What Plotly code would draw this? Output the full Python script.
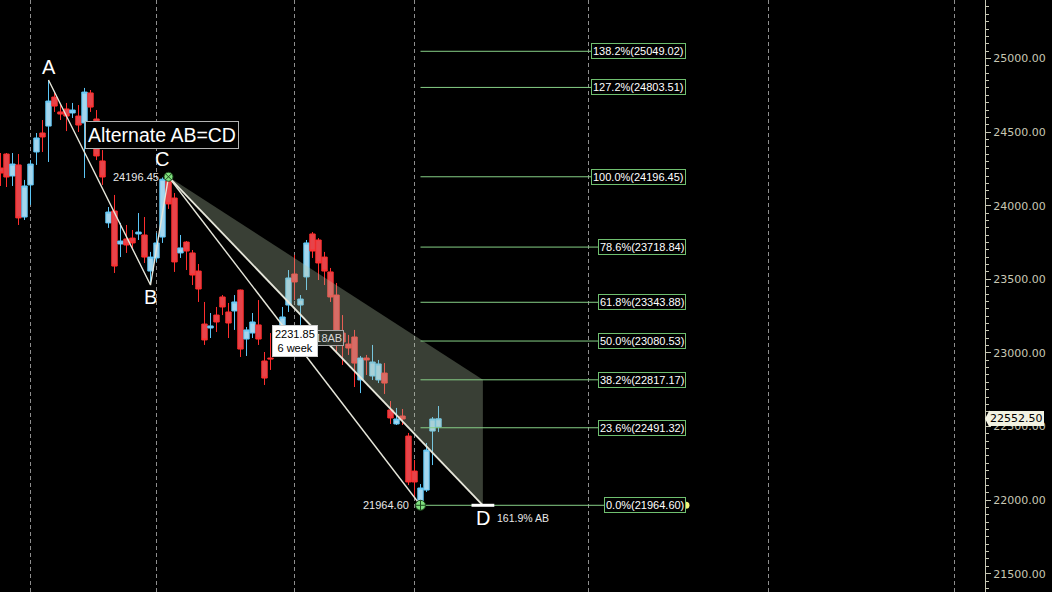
import plotly.graph_objects as go

# ---------------- data ----------------
bar_index = list(range(74))
opens = [24256, 24351, 24202, 24277, 23923, 24141, 24365, 24494, 24541, 24738,
         24637, 24657, 24630, 24609, 24562, 24766, 24589, 24304, 23883, 23964,
         23740, 23774, 23780, 23808, 23801, 23556, 23645, 23787, 24168, 24052,
         23679, 23753, 23679, 23556, 23196, 23169, 23257, 23380, 23278, 23285,
         23427, 23094, 23135, 23190, 22945, 22965, 23054, 23176, 23325, 23536,
         23325, 23516, 23808, 23767, 23651, 23550, 23393, 23135, 23060, 23108,
         22816, 22965, 22843, 22816, 22863, 22612, 22517, 22571, 22435, 22197,
         21987, 22068, 22469, 22496]
highs = [24358, 24358, 24358, 24351, 24175, 24310, 24494, 24582, 24854, 24772,
         24684, 24698, 24698, 24684, 24800, 24786, 24650, 24378, 23991, 24073,
         23883, 23869, 23835, 23950, 23923, 23686, 23815, 24192, 24196.45, 24086,
         23801, 23760, 23699, 23604, 23346, 23271, 23312, 23393, 23339, 23393,
         23430, 23176, 23271, 23359, 23006, 23135, 23190, 23312, 23563, 23665,
         23393, 23767, 23821, 23780, 23686, 23577, 23475, 23257, 23122, 23156,
         22979, 22986, 23054, 22952, 22931, 22673, 22626, 22619, 22456, 22272,
         22109, 22388, 22564, 22639]
lows = [24134, 24127, 24134, 23869, 23903, 24005, 24277, 24365, 24297, 24637,
        24582, 24507, 24596, 24501, 24188, 24637, 24310, 24141, 23849, 23543,
        23651, 23679, 23699, 23767, 23611, 23461, 23618, 23747, 23978, 23550,
        23645, 23563, 23461, 23346, 23054, 23101, 23142, 23257, 23101, 23156,
        22972, 22979, 23101, 23054, 22782, 22884, 23006, 23122, 23278, 23359,
        23190, 23427, 23645, 23495, 23461, 23346, 23006, 22918, 22986, 22768,
        22727, 22850, 22816, 22795, 22721, 22517, 22510, 22510, 22102, 22021,
        21964.6, 22055, 22238, 22462]
closes = [24222, 24195, 24283, 23917, 24134, 24283, 24460, 24467, 24711, 24677,
          24623, 24609, 24650, 24548, 24772, 24670, 24338, 24195, 23957, 23590,
          23760, 23733, 23747, 23821, 23651, 23651, 23747, 24180, 24012, 23618,
          23713, 23692, 23529, 23434, 23088, 23183, 23210, 23312, 23203, 23346,
          23026, 23156, 23210, 23094, 22829, 22959, 23122, 23244, 23509, 23482,
          23366, 23747, 23692, 23611, 23556, 23380, 23054, 23074, 23033, 22931,
          22965, 22952, 22938, 22925, 22795, 22558, 22551, 22551, 22123, 22123,
          22082, 22340, 22551, 22552.5]

# pattern points A, B, C (bar index, price)
pattern_names = ["A", "B", "C"]
pattern_idx = [8, 25, 28]
pattern_price = [24854, 23461, 24196.45]
low_idx, low_price = 70, 21964.60          # swing low (0.0 %)
d_idx, d_price = 80.4, 21964.60            # projected D point
cd_length_text = "2231.85<br>6 week"
cd_ratio_text = "1.618AB"
d_text = "161.9% AB"

fib_ratios = [138.2, 127.2, 100.0, 78.6, 61.8, 50.0, 38.2, 23.6, 0.0]
fib_prices = [25049.02, 24803.51, 24196.45, 23718.84, 23343.88, 23080.53,
              22817.17, 22491.32, 21964.60]

session_breaks = [5, 26, 49, 69, 98, 128, 159]
last_price = 22552.50

# ---------------- styling ----------------
BG = "#000000"
LINE_W = "#e6e6da"
FIB_C = "#86cf86"
AX_C = "#c8c8b4"
FONT = "Liberation Sans"
label_x = 114.25

fig = go.Figure()

fig.add_trace(go.Candlestick(
    x=bar_index, open=opens, high=highs, low=lows, close=closes,
    increasing=dict(line=dict(color="#5cc6f6", width=1), fillcolor="#a4d6ee"),
    decreasing=dict(line=dict(color="#ff2e2e", width=1), fillcolor="#e6444a"),
    whiskerwidth=0, hoverinfo="skip", showlegend=False))

# shaded projection area
c_i, c_p = pattern_idx[2], pattern_price[2]
fig.add_trace(go.Scatter(
    x=[c_i, d_idx, d_idx, c_i], y=[c_p, fib_prices[6], d_price, c_p],
    mode="lines", fill="toself", fillcolor="rgba(176,196,164,0.32)",
    line=dict(width=0), hoverinfo="skip", showlegend=False))

# fib lines
for p in fib_prices:
    fig.add_trace(go.Scatter(x=[low_idx, label_x - 8], y=[p, p], mode="lines",
                             line=dict(color=FIB_C, width=1),
                             hoverinfo="skip", showlegend=False))

# pattern lines
fig.add_trace(go.Scatter(x=pattern_idx, y=pattern_price, mode="lines",
                         line=dict(color=LINE_W, width=1.4),
                         hoverinfo="skip", showlegend=False))
fig.add_trace(go.Scatter(x=[c_i, low_idx], y=[c_p, low_price], mode="lines",
                         line=dict(color=LINE_W, width=1.4),
                         hoverinfo="skip", showlegend=False))
fig.add_trace(go.Scatter(x=[c_i, d_idx], y=[c_p, d_price], mode="lines",
                         line=dict(color=LINE_W, width=1.8),
                         hoverinfo="skip", showlegend=False))
fig.add_trace(go.Scatter(x=[d_idx - 1.9, d_idx + 1.9], y=[d_price, d_price],
                         mode="lines", line=dict(color="#ffffff", width=3),
                         hoverinfo="skip", showlegend=False))

# markers
fig.add_trace(go.Scatter(x=[c_i], y=[c_p], mode="markers",
                         marker=dict(symbol="circle-x", size=9, color="#7fe07f",
                                     line=dict(color="#1e4a1e", width=1)),
                         hoverinfo="skip", showlegend=False))
fig.add_trace(go.Scatter(x=[low_idx], y=[low_price], mode="markers",
                         marker=dict(symbol="circle-cross", size=10, color="#7fe07f",
                                     line=dict(color="#1e4a1e", width=1)),
                         hoverinfo="skip", showlegend=False))

annotations = []
# fib labels
for r, p in zip(fib_ratios, fib_prices):
    annotations.append(dict(
        x=label_x, y=p, xref="x", yref="y", xanchor="right", yanchor="middle",
        text=f"{r:.1f}%({p:.2f})", showarrow=False,
        font=dict(family=FONT, size=11, color="#ffffff"),
        bgcolor="#000000", bordercolor="#6fbf6f", borderwidth=1, borderpad=1))

# ABCD letters
letter_shift = {"A": (0, 13), "B": (0, -12), "C": (-7, 18)}
for n, i, p in zip(pattern_names, pattern_idx, pattern_price):
    dx, dy = letter_shift[n]
    annotations.append(dict(x=i, y=p, text=n, showarrow=False, xshift=dx, yshift=dy,
                            font=dict(family=FONT, size=20, color="#ffffff")))
annotations.append(dict(x=d_idx, y=d_price, text="D", showarrow=False, yshift=-13,
                        font=dict(family=FONT, size=20, color="#ffffff")))
annotations.append(dict(x=d_idx, y=d_price, text=d_text, showarrow=False,
                        xanchor="left", xshift=12, yshift=-13,
                        font=dict(family=FONT, size=10.5, color="#e8e8e8")))
annotations.append(dict(x=c_i, y=c_p, text=f"{c_p:.2f}", showarrow=False,
                        xanchor="right", xshift=-8,
                        font=dict(family=FONT, size=11, color="#e8e8e8")))
annotations.append(dict(x=low_idx, y=low_price, text=f"{low_price:.2f}", showarrow=False,
                        xanchor="right", xshift=-10,
                        font=dict(family=FONT, size=11, color="#e8e8e8")))
annotations.append(dict(x=(c_i + d_idx) / 2, y=(c_p + d_price) / 2, text=cd_ratio_text,
                        showarrow=False, xshift=-5, yshift=3,
                        font=dict(family=FONT, size=11, color="#d8d8d8"),
                        bgcolor="rgba(44,52,44,0.95)", bordercolor="#a8a8a8",
                        borderwidth=1, borderpad=1))
annotations.append(dict(x=(c_i + low_idx) / 2, y=(c_p + low_price) / 2, text=cd_length_text,
                        showarrow=False,
                        font=dict(family=FONT, size=11, color="#000000"),
                        bgcolor="#ffffff", bordercolor="#cccccc",
                        borderwidth=1, borderpad=2))
annotations.append(dict(x=14.0, y=24480, xanchor="left", text="Alternate AB=CD",
                        showarrow=False,
                        font=dict(family=FONT, size=19.5, color="#ffffff"),
                        bgcolor="#000000", bordercolor="#b4b4b4",
                        borderwidth=1, borderpad=2))
# last price tag
annotations.append(dict(x=1.004, y=last_price, xref="paper", yref="y", xanchor="left",
                        text=f"{last_price:.2f}", showarrow=False,
                        font=dict(family="DejaVu Sans", size=11, color="#000000"),
                        bgcolor="#f2f2e2", bordercolor="#f2f2e2", borderwidth=0,
                        borderpad=1))

fig.add_trace(go.Scatter(x=[label_x], y=[fib_prices[-1]], mode="markers",
                         marker=dict(size=7, color="#f2f27a"), cliponaxis=False,
                         hoverinfo="skip", showlegend=False))

shapes = [dict(type="path", xref="paper", yref="y",
               path=f"M 1.0 {last_price} L 1.0045 {last_price + 58} L 1.0045 {last_price - 58} Z",
               fillcolor="#f2f2e2", line=dict(width=0))]

fig.update_layout(
    width=1052, height=592,
    margin=dict(l=0, r=67, t=0, b=0),
    paper_bgcolor=BG, plot_bgcolor=BG,
    boxgap=0.1, boxgroupgap=0.0,
    showlegend=False,
    annotations=annotations,
    shapes=shapes,
    xaxis=dict(range=[-0.0833, 164.083], rangeslider=dict(visible=False),
               showticklabels=False, ticks="", tickvals=session_breaks,
               showgrid=True, gridcolor="#8e8e8e", griddash="4px,3px", gridwidth=1,
               zeroline=False, showline=False),
    yaxis=dict(range=[21375.5, 25397.5], side="right", showgrid=False,
               zeroline=False, showline=True, linecolor=AX_C, linewidth=1,
               tick0=0, dtick=500, tickformat=".2f", ticks="outside",
               ticklen=5, tickcolor=AX_C,
               tickfont=dict(family="DejaVu Sans", size=11, color=AX_C),
               minor=dict(dtick=50, ticklen=3, tickcolor=AX_C, ticks="outside",
                          showgrid=False)),
)

fig.write_html("out.html", config={"displayModeBar": False},
               post_script="document.body.style.margin='0';document.body.style.background='#000';")
